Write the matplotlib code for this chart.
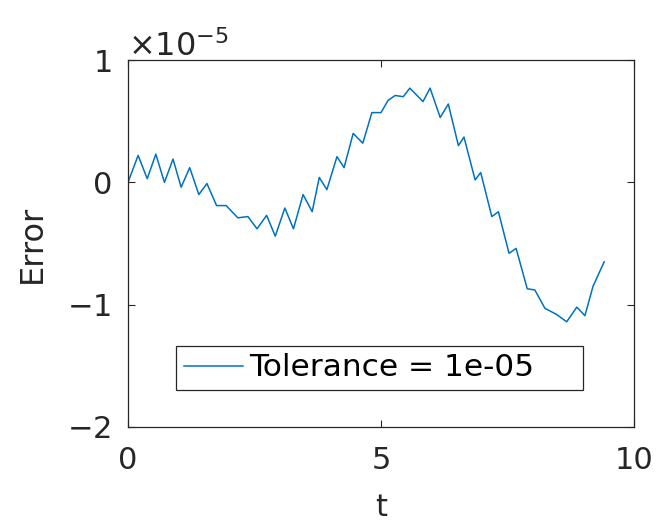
# Error vs t for tolerance 1e-05, MATLAB-style figure

import numpy as np
from matplotlib import pyplot as plt
from matplotlib.ticker import ScalarFormatter

# data (error in units of 1e-5)
t = [0.0, 0.2, 0.38, 0.55, 0.72, 0.89, 1.05, 1.22, 1.40, 1.56, 1.75, 1.94,
     2.17, 2.37, 2.55, 2.74, 2.91, 3.10, 3.27, 3.46, 3.64, 3.78, 3.93, 4.13,
     4.27, 4.45, 4.64, 4.82, 5.0, 5.14, 5.28, 5.44, 5.57, 5.83, 5.97, 6.17,
     6.33, 6.53, 6.64, 6.86, 6.97, 7.19, 7.32, 7.53, 7.67, 7.89, 8.04, 8.24,
     8.47, 8.67, 8.87, 9.03, 9.19, 9.41]
err = [0.0, 0.22, 0.03, 0.23, 0.0, 0.19, -0.04, 0.12, -0.10, -0.01, -0.19, -0.19,
       -0.29, -0.28, -0.38, -0.27, -0.44, -0.21, -0.38, -0.10, -0.24, 0.04, -0.06, 0.21,
       0.12, 0.40, 0.32, 0.57, 0.57, 0.67, 0.71, 0.70, 0.77, 0.66, 0.77, 0.53,
       0.64, 0.30, 0.37, 0.02, 0.08, -0.28, -0.24, -0.58, -0.54, -0.87, -0.88, -1.03,
       -1.08, -1.14, -1.02, -1.09, -0.85, -0.65]
scale = 1e-5
label = 'Tolerance = 1e-05'
xticks = [0, 5, 10]
yticks = [-2e-5, -1e-5, 0, 1e-5]

plt.rcParams['font.family'] = ['DejaVu Sans']
plt.rcParams['mathtext.fontset'] = 'dejavusans'
c1 = '#262626'

fig = plt.figure(figsize=(6.59, 5.29), dpi=100)
ax1 = fig.add_axes([128/659, 1-427/529, 506/659, 367/529])

ax1.plot(t, np.array(err)*scale, color='#0072BD', linewidth=1.1, label=label)

ax1.set_xlim(0, 10)
ax1.set_ylim(-2e-5, 1e-5)
ax1.set_xticks(xticks)
ax1.set_yticks(yticks)

fmt = ScalarFormatter(useMathText=True)
fmt.set_powerlimits((0, 0))
ax1.yaxis.set_major_formatter(fmt)
ax1.yaxis.get_offset_text().set_fontsize(23)
ax1.yaxis.get_offset_text().set_color(c1)

ax1.tick_params(direction='in', length=5, width=0.8, top=True, right=True,
                labelsize=22, colors=c1)
ax1.tick_params(axis='x', pad=14)
ax1.tick_params(axis='y', pad=12)
for s in ax1.spines.values():
    s.set_color(c1)
    s.set_linewidth(0.9)

ax1.set_xlabel('t', fontsize=22, color=c1, labelpad=13)
ax1.set_ylabel('Error', fontsize=23, color=c1, labelpad=14)

lg = ax1.legend(loc='lower left', bbox_to_anchor=(0.095, 0.10, 0.804, 0.13),
                mode='expand', fontsize=22.5, fancybox=False, framealpha=1,
                edgecolor=c1, handlelength=1.9, handletextpad=0.2,
                borderpad=0.25, borderaxespad=0)
lg.get_frame().set_linewidth(0.9)

plt.savefig('out.png', dpi=100)
